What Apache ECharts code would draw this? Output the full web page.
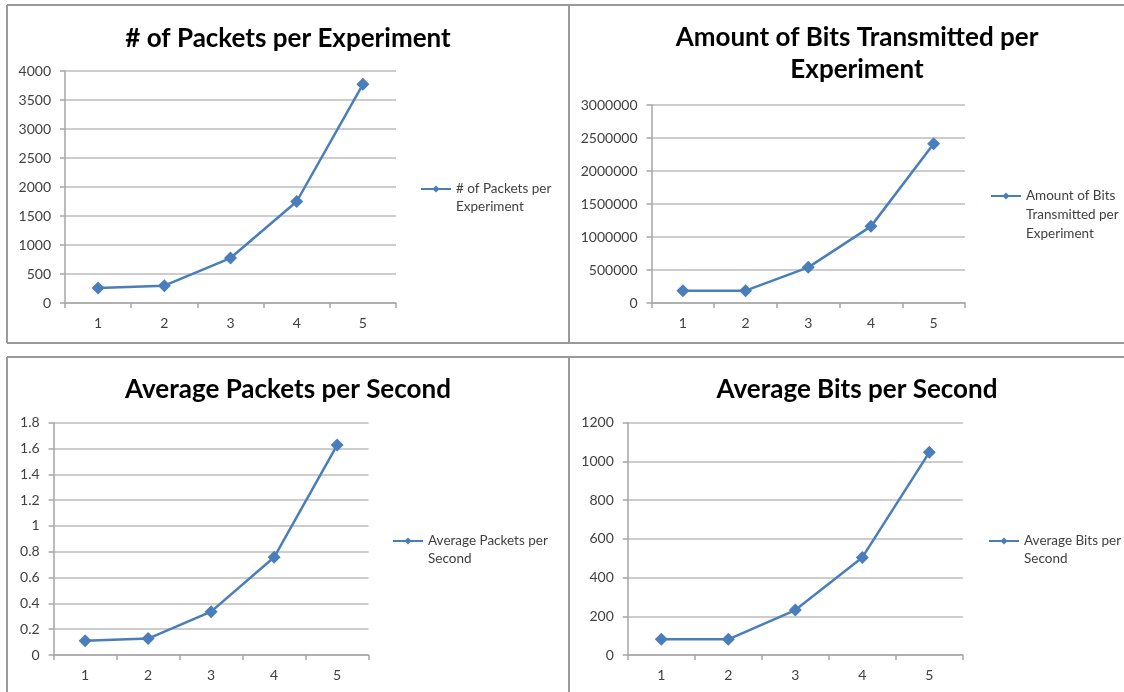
<!DOCTYPE html>
<html>
<head>
<meta charset="utf-8">
<script src="https://cdn.jsdelivr.net/npm/echarts@6/dist/echarts.min.js"></script>
<style>
html,body{margin:0;padding:0;background:#fff;}
#chart{width:1124px;height:692px;}
</style>
</head>
<body>
<div id="chart"></div>
<script>
// ---- data ----
const categories = ['1', '2', '3', '4', '5'];
const packetsPerExperiment = [258, 298, 775, 1750, 3770];
const bitsPerExperiment = [187000, 187000, 540000, 1161000, 2414000];
const avgPacketsPerSecond = [0.111, 0.127, 0.336, 0.757, 1.627];
const avgBitsPerSecond = [81, 81, 232, 504, 1047];

const titles = [
  '# of Packets per Experiment',
  'Amount of Bits Transmitted per\nExperiment',
  'Average Packets per Second',
  'Average Bits per Second'
];
const seriesNames = [
  '# of Packets per Experiment',
  'Amount of Bits Transmitted per Experiment',
  'Average Packets per Second',
  'Average Bits per Second'
];
const legendLabels = [
  '# of Packets per\nExperiment',
  'Amount of Bits\nTransmitted per\nExperiment',
  'Average Packets per\nSecond',
  'Average Bits per\nSecond'
];
const yMax = [4000, 3000000, 1.8, 1200];
const yInterval = [500, 500000, 0.2, 200];
const seriesData = [packetsPerExperiment, bitsPerExperiment, avgPacketsPerSecond, avgBitsPerSecond];

// ---- layout ----
const FONT = 'Lato, "Liberation Sans", sans-serif';
const LINE_COLOR = '#4a7ebb';
const grids = [
  {left: 65, top: 71, width: 331, height: 232},
  {left: 651.5, top: 105, width: 313.5, height: 198},
  {left: 53.6, top: 422.7, width: 315, height: 232.3},
  {left: 627.8, top: 422.7, width: 335, height: 232.3}
];
const titlePos = [
  {x: 288, y: 23},
  {x: 857, y: 22},
  {x: 288, y: 374},
  {x: 857, y: 374}
];
const legendPos = [
  {x: 420, y: 189, lh: 18},
  {x: 990, y: 196, lh: 19},
  {x: 392, y: 541, lh: 18},
  {x: 988, y: 541, lh: 18}
];

const option = {
  animation: false,
  backgroundColor: '#ffffff',
  textStyle: {fontFamily: FONT},
  title: [], legend: [], grid: [], xAxis: [], yAxis: [], series: [],
  graphic: []
};

for (let i = 0; i < 4; i++) {
  option.title.push({
    text: titles[i],
    left: titlePos[i].x,
    top: titlePos[i].y,
    textAlign: 'center',
    padding: 0,
    textStyle: {fontFamily: FONT, fontWeight: 'bold', fontSize: 26, color: '#000', lineHeight: 32}
  });
  const nLines = legendLabels[i].split('\n').length;
  const lh = legendPos[i].lh;
  // leading blank lines so that the icon lines up with the first text line
  const lead = '\n'.repeat(nLines - 1);
  const blockH = (2 * nLines - 1) * lh;
  option.legend.push({
    data: [seriesNames[i]],
    left: legendPos[i].x,
    top: legendPos[i].y - blockH / 2,
    padding: 0,
    itemWidth: 30,
    itemHeight: 9,
    itemGap: 0,
    formatter: (function (k, pre) { return function () { return pre + legendLabels[k]; }; })(i, lead),
    textStyle: {fontFamily: FONT, fontSize: 13.5, color: '#404040', lineHeight: lh}
  });
  option.grid.push(Object.assign({containLabel: false}, grids[i]));
  option.xAxis.push({
    type: 'category',
    gridIndex: i,
    data: categories,
    boundaryGap: true,
    axisLine: {show: true, lineStyle: {color: '#a6a6a6', width: 1.5}},
    axisTick: {show: true, alignWithLabel: false, length: 5, lineStyle: {color: '#a6a6a6', width: 1.5}},
    axisLabel: {fontFamily: FONT, fontSize: 14, color: '#404040', margin: 13},
    splitLine: {show: false}
  });
  option.yAxis.push({
    type: 'value',
    gridIndex: i,
    min: 0,
    max: yMax[i],
    interval: yInterval[i],
    axisLine: {show: true, lineStyle: {color: '#a6a6a6', width: 1.5}},
    axisTick: {show: true, length: 5, lineStyle: {color: '#a6a6a6', width: 1.5}},
    axisLabel: {
      fontFamily: FONT, fontSize: 14, color: '#404040', margin: 14,
      formatter: function (v) { return String(Math.round(v * 1000) / 1000); }
    },
    splitLine: {show: true, lineStyle: {color: '#bdbdbd', width: 1.5}}
  });
  option.series.push({
    type: 'line',
    name: seriesNames[i],
    xAxisIndex: i,
    yAxisIndex: i,
    data: seriesData[i],
    symbol: 'diamond',
    symbolSize: 13,
    lineStyle: {color: LINE_COLOR, width: 2.5},
    itemStyle: {color: LINE_COLOR},
    z: 3
  });
}

// panel borders
const BORDER = '#9a9a9a';
function hline(x1, x2, y) { return {type: 'line', shape: {x1: x1, y1: y, x2: x2, y2: y}, style: {stroke: BORDER, lineWidth: 2}, silent: true}; }
function vline(x, y1, y2) { return {type: 'line', shape: {x1: x, y1: y1, x2: x, y2: y2}, style: {stroke: BORDER, lineWidth: 2}, silent: true}; }
option.graphic = [
  hline(7, 1124, 5),
  hline(7, 1124, 343),
  hline(7, 1124, 357),
  vline(7, 5, 343),
  vline(7, 357, 692),
  vline(569, 5, 343),
  vline(569, 357, 692)
];

const chart = echarts.init(document.getElementById('chart'), null, {renderer: 'canvas'});
chart.setOption(option);
</script>
</body>
</html>
